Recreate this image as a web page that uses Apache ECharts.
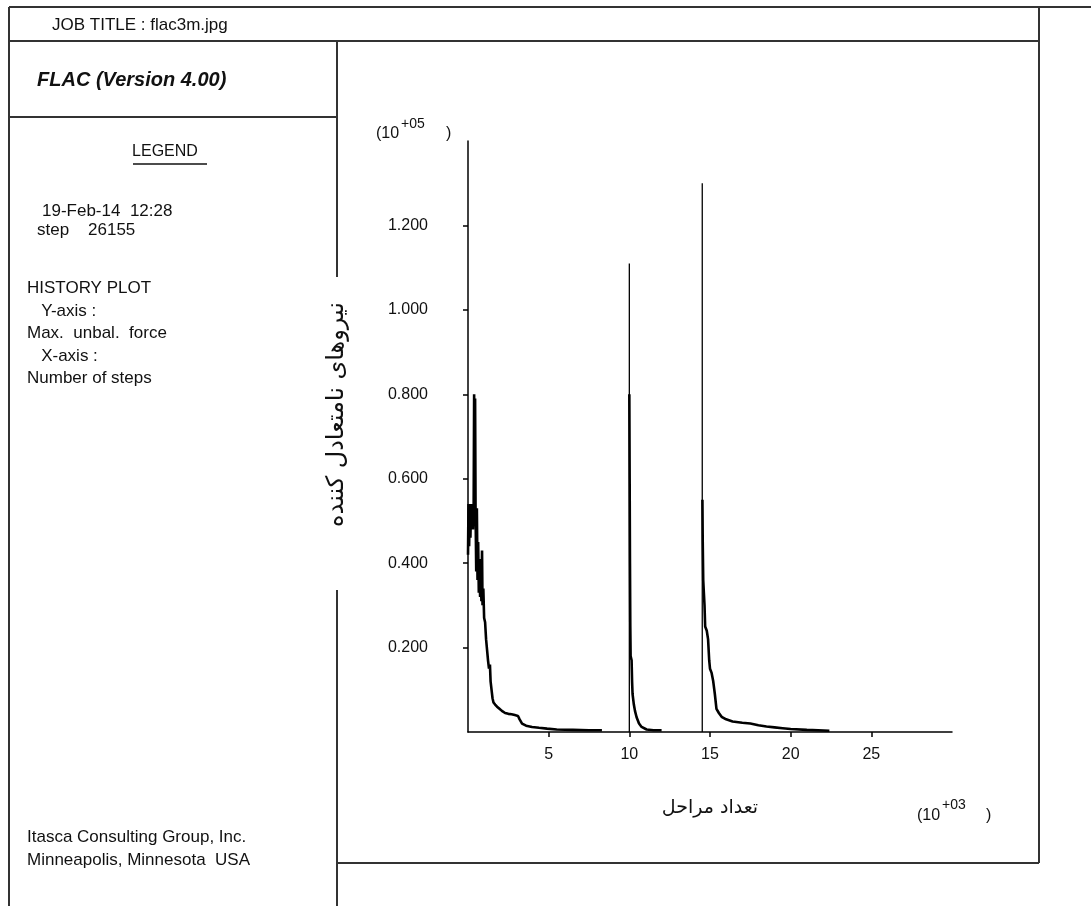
<!DOCTYPE html>
<html lang="fa">
<head>
<meta charset="UTF-8">
<title>FLAC history plot</title>
<script src="https://cdn.jsdelivr.net/npm/echarts@6.0.0/dist/echarts.min.js"></script>
<style>
    html, body {
        margin: 0;
        padding: 0;
        background: #fff;
        overflow: hidden;
    }
    #chart {
        width: 1091px;
        height: 906px;
    }
</style>
</head>
<body>
<div id="chart"></div>
<script>
    // steps in 10^3, unbalanced force in 10^5
    var xTicks = [5, 10, 15, 20, 25];
    var yTicks = [0.2, 0.4, 0.6, 0.8, 1.0, 1.2];

    // first stage, 0 .. 8.3k steps
    var stage1 = [
        [0.00, 0.42], [0.03, 0.54], [0.07, 0.44], [0.11, 0.53], [0.15, 0.46], [0.19, 0.54],
        [0.23, 0.49], [0.27, 0.52], [0.31, 0.48], [0.35, 0.53], [0.38, 0.80], [0.41, 0.55],
        [0.44, 0.79], [0.47, 0.52], [0.51, 0.38], [0.55, 0.53], [0.59, 0.36], [0.63, 0.45],
        [0.67, 0.33], [0.71, 0.41], [0.75, 0.32], [0.79, 0.40], [0.83, 0.31], [0.87, 0.43],
        [0.90, 0.30], [0.95, 0.34], [1.00, 0.27], [1.06, 0.26], [1.12, 0.22], [1.18, 0.195],
        [1.24, 0.17], [1.30, 0.15], [1.36, 0.16], [1.40, 0.12], [1.46, 0.10], [1.52, 0.08],
        [1.58, 0.07], [1.68, 0.065], [1.80, 0.06], [1.95, 0.055], [2.10, 0.05], [2.30, 0.045],
        [2.50, 0.043], [2.70, 0.042], [2.90, 0.04], [3.00, 0.043], [3.10, 0.038], [3.20, 0.03],
        [3.35, 0.02], [3.60, 0.015], [3.97, 0.012], [4.40, 0.01], [4.90, 0.008], [5.50, 0.006],
        [6.50, 0.005], [7.50, 0.004], [8.30, 0.004]
    ];

    // second stage after the jump at 10k
    var stage2 = [
        [10.00, 0.80], [10.02, 0.60], [10.04, 0.40], [10.06, 0.25], [10.08, 0.18], [10.14, 0.17],
        [10.17, 0.12], [10.20, 0.09], [10.28, 0.065], [10.35, 0.05], [10.45, 0.035], [10.60, 0.02],
        [10.76, 0.012], [11.07, 0.006], [11.50, 0.004], [12.00, 0.004]
    ];

    // third stage after the jump at 14.5k
    var stage3 = [
        [14.53, 0.55], [14.55, 0.45], [14.58, 0.36], [14.62, 0.33], [14.66, 0.30], [14.70, 0.25],
        [14.80, 0.24], [14.88, 0.22], [14.95, 0.17], [15.00, 0.15], [15.10, 0.14], [15.20, 0.12],
        [15.30, 0.09], [15.40, 0.055], [15.55, 0.045], [15.72, 0.036], [16.00, 0.03], [16.40, 0.025],
        [17.00, 0.022], [17.50, 0.02], [18.00, 0.016], [18.50, 0.013], [19.00, 0.011], [19.50, 0.009],
        [20.00, 0.007], [21.00, 0.005], [22.40, 0.003]
    ];

    // single-step peaks at the start of stage 2 and 3
    var spikes = [[10.00, 1.11], [14.52, 1.30]];

    var sans = "'Liberation Sans', Arial, sans-serif";
    var persian = "'DejaVu Sans', sans-serif";
    var ink = '#111';
    var frame = '#333';

    function txt(x, y, s, extra) {
        var style = { text: s, fontSize: 17, fontFamily: sans, fill: ink, align: 'left', verticalAlign: 'middle' };
        for (var k in extra) style[k] = extra[k];
        return { type: 'text', x: x, y: y, style: style, z: 10 };
    }
    function seg(x1, y1, x2, y2, w, c) {
        return { type: 'line', shape: { x1: x1, y1: y1, x2: x2, y2: y2 },
                 style: { stroke: c || frame, lineWidth: w || 2 }, z: 5 };
    }

    var curveStyle = { color: '#000', width: 2.6 };
    var series = [stage1, stage2, stage3].map(function (d) {
        return { type: 'line', data: d, showSymbol: false, lineStyle: curveStyle, z: 3 };
    });
    spikes.forEach(function (p) {
        series.push({ type: 'line', data: [[p[0], 0], [p[0], p[1]]], showSymbol: false,
                      lineStyle: { color: '#000', width: 1.3 }, z: 2 });
    });

    var chart = echarts.init(document.getElementById('chart'));
    chart.setOption({
        animation: false,
        backgroundColor: '#fff',
        grid: { left: 468, top: 141, width: 484, height: 591, outerBoundsMode: 'none' },
        xAxis: {
            type: 'value', min: 0, max: 30,
            name: 'تعداد مراحل', nameLocation: 'middle', nameGap: 67,
            nameTextStyle: { fontFamily: persian, fontSize: 19, color: ink },
            axisLine: { lineStyle: { color: '#000', width: 1.5 } },
            axisTick: { show: true, length: 5, customValues: xTicks, lineStyle: { color: '#000', width: 1.5 } },
            axisLabel: { customValues: xTicks, margin: 15, fontSize: 16, fontFamily: sans, color: ink },
            splitLine: { show: false }
        },
        yAxis: {
            type: 'value', min: 0, max: 1.4,
            name: 'نیروهای نامتعادل کننده', nameLocation: 'middle', nameGap: 119, nameRotate: 90,
            nameTextStyle: { fontFamily: persian, fontSize: 24, color: ink, padding: [0, 0, 0, 44] },
            axisLine: { show: true, lineStyle: { color: '#000', width: 1.5 } },
            axisTick: { show: true, length: 5, customValues: yTicks, lineStyle: { color: '#000', width: 1.5 } },
            axisLabel: { customValues: yTicks, margin: 40, fontSize: 16, fontFamily: sans, color: ink,
                         formatter: function (v) { return v.toFixed(3); } },
            splitLine: { show: false }
        },
        graphic: [
            // outer frame
            seg(9, 7, 1091, 7),
            seg(9, 7, 9, 906),
            seg(9, 41, 1039, 41),
            seg(1039, 7, 1039, 863),
            seg(337, 863, 1039, 863),
            seg(337, 41, 337, 277),
            seg(337, 590, 337, 906),
            seg(9, 117, 337, 117),
            // legend panel
            txt(52, 25, 'JOB TITLE : flac3m.jpg'),
            txt(37, 80, 'FLAC (Version 4.00)', { fontSize: 20, fontWeight: 'bold', fontStyle: 'italic' }),
            txt(165, 152, 'LEGEND', { align: 'center', fontSize: 16 }),
            seg(133, 164, 207, 164, 1.5, ink),
            txt(42, 211, '19-Feb-14  12:28'),
            txt(37, 230, 'step    26155'),
            txt(27, 288, 'HISTORY PLOT'),
            txt(27, 311, '   Y-axis :'),
            txt(27, 333, 'Max.  unbal.  force'),
            txt(27, 356, '   X-axis :'),
            txt(27, 378, 'Number of steps'),
            txt(27, 837, 'Itasca Consulting Group, Inc.'),
            txt(27, 860, 'Minneapolis, Minnesota  USA'),
            // axis multipliers
            txt(376, 134, '(10', { fontSize: 16 }), txt(401, 124, '+05', { fontSize: 14 }), txt(446, 134, ')', { fontSize: 16 }),
            txt(917, 816, '(10', { fontSize: 16 }), txt(942, 805, '+03', { fontSize: 14 }), txt(986, 816, ')', { fontSize: 16 })
        ],
        series: series
    });
</script>
</body>
</html>
